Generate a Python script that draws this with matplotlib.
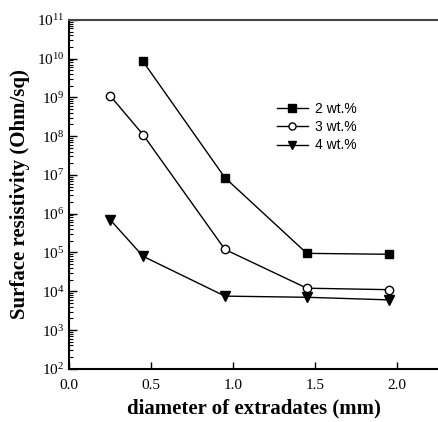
import numpy as np
from matplotlib import pyplot as plt
from matplotlib.ticker import LogLocator, NullFormatter

# diameter of extradates (mm)
diam_2 = [0.45, 0.95, 1.45, 1.95]
diam_3 = [0.25, 0.45, 0.95, 1.45, 1.95]
diam_4 = [0.25, 0.45, 0.95, 1.45, 1.95]

# surface resistivity (Ohm/sq)
res_2 = [8.5e9, 8.5e6, 9.5e4, 9.0e4]
res_3 = [1.1e9, 1.1e8, 1.2e5, 1.2e4, 1.1e4]
res_4 = [7.0e5, 8.0e4, 7.5e3, 7.0e3, 6.0e3]

labels = ["2 wt.%", "3 wt.%", "4 wt.%"]
xticks = [0.0, 0.5, 1.0, 1.5, 2.0]

plt.rcParams["font.family"] = "Liberation Serif"
fig = plt.figure(figsize=(4.38, 4.22), dpi=100)
ax = fig.add_axes([0.158, 0.126, 0.842, 0.827])

ax.plot(diam_2, res_2, c="black", lw=1, marker="s", ms=6, mfc="black", label=labels[0])
ax.plot(diam_3, res_3, c="black", lw=1, marker="o", ms=6, mfc="white", label=labels[1])
ax.plot(diam_4, res_4, c="black", lw=1, marker="v", ms=7, mfc="black", label=labels[2])

ax.set_yscale("log")
ax.set_ylim(1e2, 1e11)
ax.set_xlim(0, 2.25)
ax.set_xticks(xticks)
ax.set_xticklabels([f"{v:.1f}" for v in xticks])
ax.yaxis.set_major_locator(LogLocator(base=10, numticks=20))
ax.yaxis.set_minor_locator(LogLocator(base=10, subs=np.arange(2, 10), numticks=20))
ax.yaxis.set_minor_formatter(NullFormatter())

ax.tick_params(axis="both", which="both", direction="in", labelsize=11, color="black")
ax.tick_params(axis="y", which="major", length=6, width=1)
ax.tick_params(axis="y", which="minor", length=3, width=0.8)
ax.tick_params(axis="x", which="major", length=5, width=1, pad=7)
ax.tick_params(axis="x", which="minor", bottom=False)

ax.spines["right"].set_visible(False)
ax.spines["top"].set_color("#444444")
ax.spines["top"].set_linewidth(1.5)
ax.spines["left"].set_linewidth(1.5)
ax.spines["bottom"].set_linewidth(1.5)

ax.set_xlabel("diameter of extradates (mm)", fontsize=15, fontweight="bold", labelpad=5)
ax.set_ylabel("Surface resistivity (Ohm/sq)", fontsize=15, fontweight="bold", labelpad=5)

leg = ax.legend(loc="upper left", bbox_to_anchor=(0.53, 0.8), frameon=False,
                prop={"family": "Liberation Sans", "size": 10}, markerscale=0.85,
                handlelength=2.2, handletextpad=0.5, labelspacing=0.3)

fig.savefig("out.png", dpi=100)
